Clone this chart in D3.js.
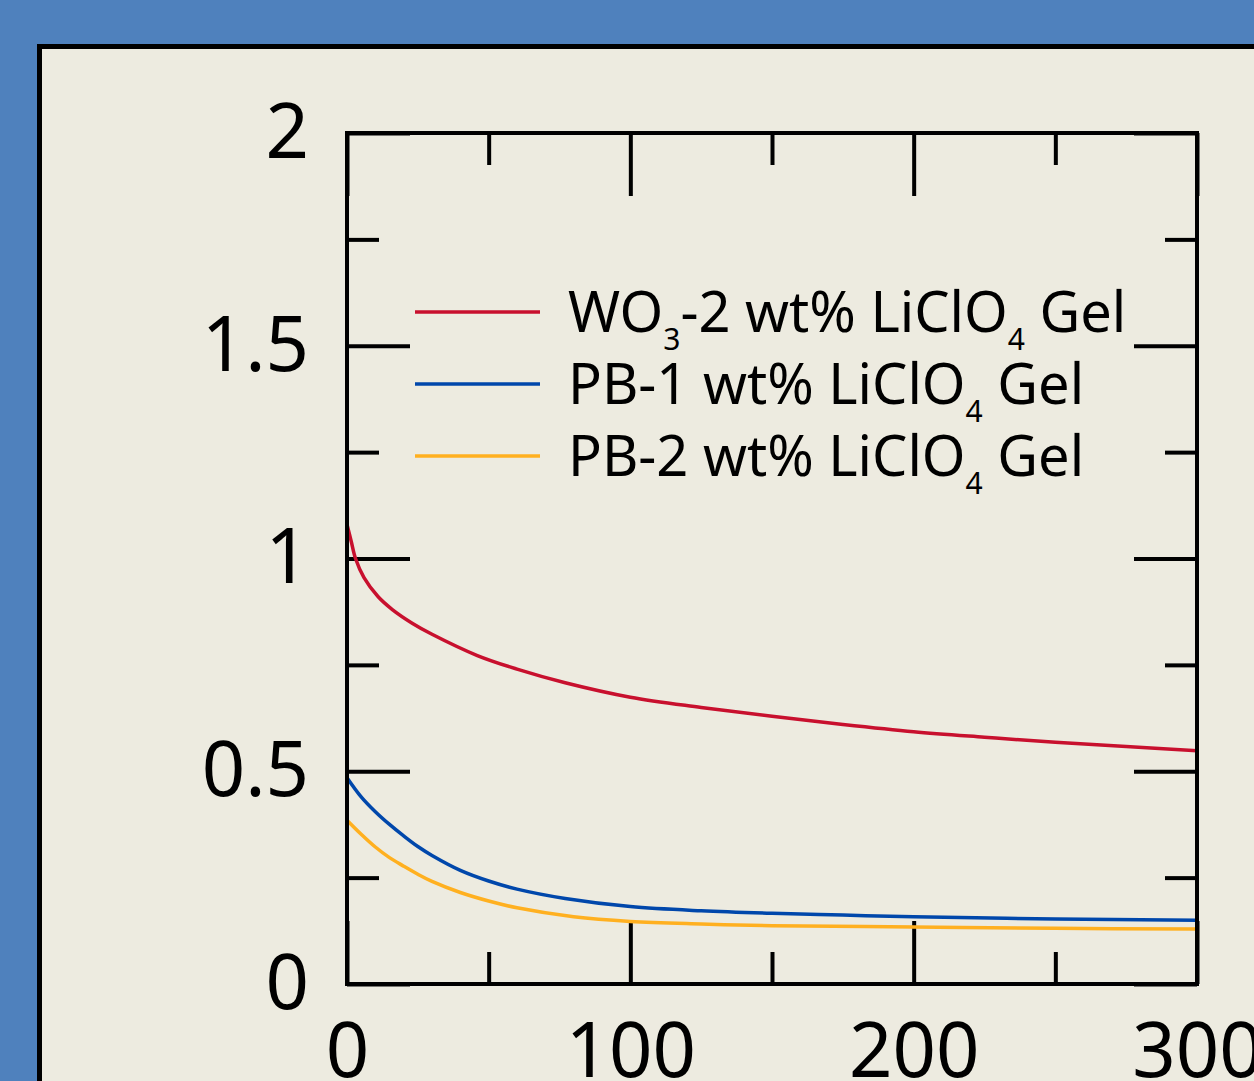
<!DOCTYPE html>
<html>
<head>
<meta charset="utf-8">
<script src="https://cdn.jsdelivr.net/npm/d3@7"></script>
<style>
  html, body { margin: 0; padding: 0; background: #4f81bd; overflow: hidden; }
  svg { display: block; }
</style>
</head>
<body>
<div id="chart"></div>
<script>
// time (s)
const timeRed = [0, 1.5, 3, 6, 11, 16, 23, 30, 46, 60, 77, 100, 125, 150, 175, 200, 225, 250, 275, 300];
const valuesRed = [1.08, 1.04, 1.0, 0.955, 0.91, 0.88, 0.848, 0.822, 0.772, 0.74, 0.708, 0.674, 0.65, 0.629, 0.61, 0.593, 0.58, 0.568, 0.558, 0.548];

const timeBlue = [0, 5, 10, 15, 20, 25, 30, 40, 50, 60, 77, 100, 125, 150, 175, 200, 250, 300];
const valuesBlue = [0.485, 0.44, 0.405, 0.375, 0.348, 0.323, 0.302, 0.267, 0.242, 0.223, 0.201, 0.182, 0.172, 0.166, 0.162, 0.158, 0.153, 0.15];

const timeOrange = [0, 5, 10, 15, 20, 25, 30, 40, 50, 60, 80, 100, 125, 150, 200, 250, 300];
const valuesOrange = [0.385, 0.352, 0.322, 0.297, 0.277, 0.258, 0.241, 0.215, 0.195, 0.179, 0.158, 0.147, 0.141, 0.137, 0.134, 0.131, 0.129];

const seriesNames = [
  [{t: 'WO'}, {t: '3', sub: true}, {t: '-2 wt% LiClO'}, {t: '4', sub: true}, {t: ' Gel'}],
  [{t: 'PB-1 wt% LiClO'}, {t: '4', sub: true}, {t: ' Gel'}],
  [{t: 'PB-2 wt% LiClO'}, {t: '4', sub: true}, {t: ' Gel'}],
];
const seriesColors = ['#c8102e', '#0047ab', '#ffb020'];

const xMajor = [0, 100, 200, 300];
const xMinor = [50, 150, 250];
const yMajor = [0, 0.5, 1, 1.5, 2];
const yMinor = [0.25, 0.75, 1.25, 1.75];

const W = 1254, H = 1081;
const plot = {left: 347, top: 133, right: 1197, bottom: 984};
const font = '"Noto Sans", "Open Sans", sans-serif';

const svg = d3.select('#chart').append('svg').attr('width', W).attr('height', H);

svg.append('rect').attr('width', W).attr('height', H).attr('fill', '#4f81bd');
svg.append('rect')
  .attr('x', 39.5).attr('y', 46.5)
  .attr('width', W + 50).attr('height', H + 50)
  .attr('fill', '#edebe0')
  .attr('stroke', '#000').attr('stroke-width', 5);

const xScale = d3.scaleLinear().domain([0, 300]).range([plot.left, plot.right]);
const yScale = d3.scaleLinear().domain([0, 2]).range([plot.bottom, plot.top]);

const majorLen = 63, minorLen = 32;

const styleAxis = (g) => {
  g.select('.domain').remove();
  g.selectAll('line').attr('stroke', '#000').attr('stroke-width', 4);
  g.selectAll('text').attr('fill', '#000').style('font-family', font).style('font-size', '76px');
};

// left / right
svg.append('g').attr('transform', `translate(${plot.left},0)`)
  .call(d3.axisLeft(yScale).tickValues(yMajor).tickSize(-majorLen).tickPadding(38).tickFormat(d3.format('')))
  .call(styleAxis);
svg.append('g').attr('transform', `translate(${plot.left},0)`)
  .call(d3.axisLeft(yScale).tickValues(yMinor).tickSize(-minorLen).tickFormat(''))
  .call(styleAxis);
svg.append('g').attr('transform', `translate(${plot.right},0)`)
  .call(d3.axisRight(yScale).tickValues(yMajor).tickSize(-majorLen).tickFormat(''))
  .call(styleAxis);
svg.append('g').attr('transform', `translate(${plot.right},0)`)
  .call(d3.axisRight(yScale).tickValues(yMinor).tickSize(-minorLen).tickFormat(''))
  .call(styleAxis);

// bottom / top
svg.append('g').attr('transform', `translate(0,${plot.bottom})`)
  .call(d3.axisBottom(xScale).tickValues(xMajor).tickSize(-majorLen).tickPadding(39).tickFormat(d3.format('')))
  .call(styleAxis);
svg.append('g').attr('transform', `translate(0,${plot.bottom})`)
  .call(d3.axisBottom(xScale).tickValues(xMinor).tickSize(-minorLen).tickFormat(''))
  .call(styleAxis);
svg.append('g').attr('transform', `translate(0,${plot.top})`)
  .call(d3.axisTop(xScale).tickValues(xMajor).tickSize(-majorLen).tickFormat(''))
  .call(styleAxis);
svg.append('g').attr('transform', `translate(0,${plot.top})`)
  .call(d3.axisTop(xScale).tickValues(xMinor).tickSize(-minorLen).tickFormat(''))
  .call(styleAxis);

// data lines
const series = [
  timeRed.map((t, i) => [t, valuesRed[i]]),
  timeBlue.map((t, i) => [t, valuesBlue[i]]),
  timeOrange.map((t, i) => [t, valuesOrange[i]]),
];
const line = d3.line()
  .x((d) => xScale(d[0]))
  .y((d) => yScale(d[1]))
  .curve(d3.curveCatmullRom.alpha(0.5));

svg.selectAll('.series')
  .data(series)
  .join('path')
  .attr('class', 'series')
  .attr('fill', 'none')
  .attr('stroke', (d, i) => seriesColors[i])
  .attr('stroke-width', 3.5)
  .attr('d', line);

// frame
svg.append('rect')
  .attr('x', plot.left).attr('y', plot.top)
  .attr('width', plot.right - plot.left).attr('height', plot.bottom - plot.top)
  .attr('fill', 'none').attr('stroke', '#000').attr('stroke-width', 4);

// legend
const legend = svg.append('g').attr('transform', 'translate(415,312)');
const item = legend.selectAll('g')
  .data(seriesNames)
  .join('g')
  .attr('transform', (d, i) => `translate(0,${i * 72})`);
item.append('line')
  .attr('x1', 0).attr('x2', 125)
  .attr('stroke', (d, i) => seriesColors[i])
  .attr('stroke-width', 3.5);
const txt = item.append('text')
  .attr('x', 153).attr('y', 20)
  .style('font-family', font)
  .style('font-size', '56px')
  .attr('fill', '#000');
txt.selectAll('tspan')
  .data((d) => d)
  .join('tspan')
  .style('font-size', (d) => (d.sub ? '30px' : null))
  .attr('dy', (d, i, nodes) => {
    const prev = i > 0 ? nodes[i - 1].__data__ : null;
    if (d.sub) return 18;
    if (prev && prev.sub) return -18;
    return 0;
  })
  .text((d) => d.t);
</script>
</body>
</html>
